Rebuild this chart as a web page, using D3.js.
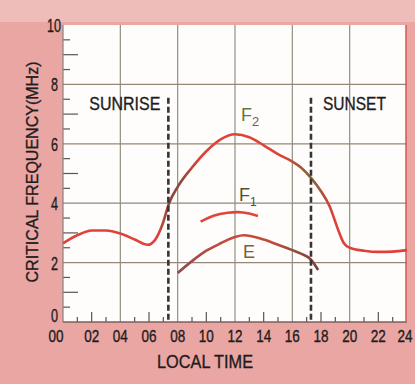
<!DOCTYPE html>
<html lang="en">
<head>
  <meta charset="UTF-8">
  <title>Critical frequency</title>
  <script src="https://d3js.org/d3.v7.min.js"></script>
  <style>
    body,html{
      margin:0;
      padding:0;
      background:#e9a6a3;
    }
    text{
      font-family:"Liberation Sans", Arial, sans-serif;
    }
    .lbl{
      stroke:#1e1c1c;
      stroke-width:0.35;
    }
  </style>
</head>
<body>
  <svg width="415" height="384"></svg>
  <script>
    // local time (h) and critical frequency (MHz)
    let mainTimes = [0, 1, 2, 3, 4, 5, 5.9, 6.4, 6.95, 7.4, 8, 9, 10, 11, 12, 13, 14, 15, 16, 16.6, 17.3, 18, 18.6, 19.2, 19.6, 20, 21, 22, 23, 24];
    let mainVals = [2.65, 2.92, 3.08, 3.08, 2.98, 2.78, 2.6, 2.75, 3.3, 4.0, 4.55, 5.2, 5.75, 6.15, 6.32, 6.22, 5.95, 5.65, 5.4, 5.2, 4.85, 4.4, 3.9, 3.1, 2.65, 2.5, 2.4, 2.36, 2.37, 2.42];

    let f1Times = [9.6, 10.5, 11.5, 12.2, 13, 13.6];
    let f1Vals = [3.38, 3.58, 3.68, 3.7, 3.65, 3.57];

    let eTimes = [8, 9, 10, 11, 12, 12.6, 14, 15, 16, 16.6, 17.3, 17.8];
    let eVals = [1.65, 2.05, 2.4, 2.65, 2.86, 2.92, 2.78, 2.6, 2.42, 2.3, 2.1, 1.75];

    let sunrise = 7.35, sunset = 17.3;
    let xTickLabels = ["00","02","04","06","08","10","12","14","16","18","20","22","24"];
    let yTickLabels = ["0","2","4","6","8","10"];

    let svg = d3.select("svg");

    let xScale = d3.scaleLinear().domain([0, 24]).range([63, 407]);
    let yScale = d3.scaleLinear().domain([0, 10]).range([322, 25]);

    // lighter speckled band on top
    svg.append("rect").attr("x", 0).attr("y", 0).attr("width", 415).attr("height", 22).attr("fill", "#eebdb9");

    // plot area
    svg.append("rect")
      .attr("x", xScale(0)).attr("y", yScale(10))
      .attr("width", xScale(24) - xScale(0) - 1)
      .attr("height", yScale(0) - yScale(10))
      .attr("fill", "#fefdfb");

    let g = svg.append("g");

    // grid
    g.selectAll(".vgrid").data([4, 8, 12, 16, 20]).enter().append("line")
      .attr("x1", d => xScale(d)).attr("x2", d => xScale(d))
      .attr("y1", yScale(10)).attr("y2", yScale(0))
      .attr("stroke", "#8f9282").attr("stroke-width", 1.2);
    g.selectAll(".hgrid").data([2, 4, 6, 8]).enter().append("line")
      .attr("x1", xScale(0)).attr("x2", xScale(24))
      .attr("y1", d => yScale(d)).attr("y2", d => yScale(d))
      .attr("stroke", "#968678").attr("stroke-width", 1.2);

    // minor ticks
    let yMinor = d3.range(0.5, 10, 0.5).filter(d => d % 2 != 0);
    g.selectAll(".ytick").data(yMinor).enter().append("line")
      .attr("x1", xScale(0)).attr("x2", d => xScale(0) + (d % 1 == 0 ? 15 : 7))
      .attr("y1", d => yScale(d)).attr("y2", d => yScale(d))
      .attr("stroke", "#5a5552").attr("stroke-width", 1.2);
    let xMinor = d3.range(1, 24).filter(d => d % 4 != 0);
    g.selectAll(".xtick").data(xMinor).enter().append("line")
      .attr("x1", d => xScale(d)).attr("x2", d => xScale(d))
      .attr("y1", yScale(0)).attr("y2", d => yScale(0) - (d % 2 == 0 ? 10 : 5))
      .attr("stroke", "#5a5552").attr("stroke-width", 1.2);

    // axis lines
    g.append("line").attr("x1", xScale(0)).attr("x2", xScale(0)).attr("y1", yScale(10)).attr("y2", yScale(0))
      .attr("stroke", "#8a7f7c").attr("stroke-width", 1.2);
    g.append("line").attr("x1", xScale(0)).attr("x2", xScale(24)).attr("y1", yScale(0)).attr("y2", yScale(0))
      .attr("stroke", "#7e5e58").attr("stroke-width", 1.6);
    g.append("line").attr("x1", xScale(24) - 1).attr("x2", xScale(24) - 1).attr("y1", yScale(10)).attr("y2", yScale(0))
      .attr("stroke", "#d9574e").attr("stroke-width", 1.5);

    // gradient for the main curve (brownish near sunrise / sunset)
    let grad = svg.append("defs").append("linearGradient")
      .attr("id", "mainGrad").attr("gradientUnits", "userSpaceOnUse")
      .attr("x1", xScale(0)).attr("x2", xScale(24)).attr("y1", 0).attr("y2", 0);
    [[0, "#df4238"], [6.6, "#df4238"], [7.4, "#8a4a42"], [8.2, "#8a4a42"], [9.6, "#df4238"],
     [15.4, "#df4238"], [16.6, "#9a5a3a"], [17.4, "#7d6a38"], [18.2, "#c0453a"], [19, "#e0403a"], [24, "#e0403a"]]
      .forEach(s => grad.append("stop").attr("offset", s[0] / 24).attr("stop-color", s[1]));

    let gradE = svg.select("defs").append("linearGradient")
      .attr("id", "eGrad").attr("gradientUnits", "userSpaceOnUse")
      .attr("x1", xScale(0)).attr("x2", xScale(24)).attr("y1", 0).attr("y2", 0);
    [[8, "#8a4a52"], [10, "#b84a40"], [12, "#c9483c"], [14.5, "#c24a3e"], [16.5, "#8e4c3c"], [18, "#7a3a3a"]]
      .forEach(s => gradE.append("stop").attr("offset", s[0] / 24).attr("stop-color", s[1]));

    let line = d3.line()
      .curve(d3.curveMonotoneX)
      .x(d => xScale(d[0]))
      .y(d => yScale(d[1]));

    g.append("path").datum(d3.zip(mainTimes, mainVals))
      .attr("d", line).attr("fill", "none")
      .attr("stroke", "url(#mainGrad)").attr("stroke-width", 2.6);
    g.append("path").datum(d3.zip(f1Times, f1Vals))
      .attr("d", line).attr("fill", "none")
      .attr("stroke", "#e0443a").attr("stroke-width", 2.6);
    g.append("path").datum(d3.zip(eTimes, eVals))
      .attr("d", line).attr("fill", "none")
      .attr("stroke", "url(#eGrad)").attr("stroke-width", 2.6);

    // sunrise / sunset markers
    [sunrise, sunset].forEach(t => {
      g.append("line")
        .attr("x1", xScale(t)).attr("x2", xScale(t))
        .attr("y1", yScale(7.55)).attr("y2", yScale(0))
        .attr("stroke", "#3a3433").attr("stroke-width", 2.6)
        .attr("stroke-dasharray", "6,3");
    });
    g.append("text").attr("class", "lbl").attr("x", xScale(sunrise) - 8).attr("y", 110)
      .attr("text-anchor", "end").attr("font-size", 18.5).attr("fill", "#1e1c1c")
      .attr("textLength", 71).attr("lengthAdjust", "spacingAndGlyphs").text("SUNRISE");
    g.append("text").attr("class", "lbl").attr("x", xScale(sunset) + 12).attr("y", 110)
      .attr("font-size", 18.5).attr("fill", "#1e1c1c")
      .attr("textLength", 63).attr("lengthAdjust", "spacingAndGlyphs").text("SUNSET");

    // layer labels
    let f2 = g.append("text").attr("x", 241).attr("y", 121).attr("font-size", 18).attr("fill", "#5f7a3c");
    f2.append("tspan").text("F");
    f2.append("tspan").attr("dy", 5).attr("font-size", 13).attr("fill", "#9a4a3e").text("2");
    let f1 = g.append("text").attr("x", 239).attr("y", 201).attr("font-size", 18).attr("fill", "#4f5232");
    f1.append("tspan").text("F");
    f1.append("tspan").attr("dy", 5).attr("font-size", 12).attr("fill", "#4a4a40").text("1");
    g.append("text").attr("x", 243).attr("y", 258).attr("font-size", 18).attr("fill", "#7a6040").text("E");

    // tick labels
    g.selectAll(".ylab").data(yTickLabels).enter().append("text")
      .attr("class", "lbl")
      .attr("x", d => d == "10" ? 61 : 58)
      .attr("y", d => yScale(+d) + (d == "0" ? 0 : 7))
      .attr("text-anchor", "end").attr("font-size", 19).attr("fill", "#1e1c1c")
      .attr("textLength", d => d.length * 7).attr("lengthAdjust", "spacingAndGlyphs")
      .text(d => d);
    g.selectAll(".xlab").data(xTickLabels).enter().append("text")
      .attr("class", "lbl")
      .attr("x", d => xScale(+d) - (d == "00" ? 7 : 0) - (d == "24" ? 2 : 0))
      .attr("y", 342)
      .attr("text-anchor", "middle").attr("font-size", 16.5).attr("fill", "#1e1c1c")
      .attr("textLength", 15).attr("lengthAdjust", "spacingAndGlyphs")
      .text(d => d);

    // axis titles
    g.append("text").attr("class", "lbl").attr("x", 205).attr("y", 368)
      .attr("text-anchor", "middle").attr("font-size", 18).attr("fill", "#1e1c1c")
      .attr("textLength", 96).attr("lengthAdjust", "spacingAndGlyphs").text("LOCAL TIME");
    g.append("text").attr("class", "lbl")
      .attr("transform", "translate(38,172) rotate(-90)")
      .attr("text-anchor", "middle").attr("font-size", 16.5).attr("fill", "#1e1c1c")
      .attr("textLength", 221).attr("lengthAdjust", "spacingAndGlyphs").text("CRITICAL FREQUENCY(MHz)");
  </script>
</body>
</html>
